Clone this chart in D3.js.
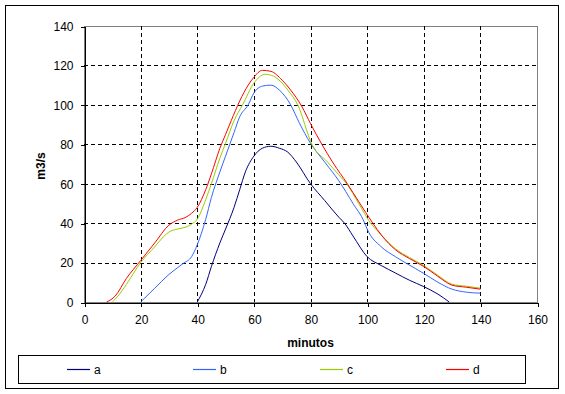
<!DOCTYPE html>
<html lang="en">
<head>
<meta charset="utf-8" />
<style>
    body { margin: 0; background: #fff; }
    text { font-family: "Liberation Sans", Arial, sans-serif; font-size: 12px; fill: #000; }
    .grid line { stroke: #000; stroke-dasharray: 4,3; shape-rendering: crispEdges; }
    .axis path, .axis line { stroke: #000; shape-rendering: crispEdges; }
    .series { fill: none; stroke-width: 1px; }
</style>
</head>
<body>
<svg width="565" height="394"></svg>
<script src="https://cdn.jsdelivr.net/npm/d3@7"></script>
<script>

var xTicks = [0, 20, 40, 60, 80, 100, 120, 140, 160],
    yTicks = [0, 20, 40, 60, 80, 100, 120, 140];

var seriesNames = ["a", "b", "c", "d"],
    seriesColors = ["#000080", "#3366ff", "#99cc00", "#ff0000"];

// minutos, m3/s
var a = [[40,0],[43,9],[45,18],[48,30],[50,37],[53,48],[55,57],[57,66],[60,74],[63,78],[66,79],[69,78],
         [72,76],[75,71],[80,60],[85,51.5],[90,43],[92,40],[95,33.5],[100,23],[105,18.5],[110,14.7],[115,11],
         [120,7.8],[125,4],[129,0]];
var b = [[20,0],[25,7],[30,14],[35,19.5],[38,23],[40,29],[43,42],[45,53],[48,66],[50,74],[53,86],[55,94],[58,100],
         [60,106],[63,109.5],[66,110],[69,107.5],[73,100],[76,91],[80,80.5],[85,71],[90,61.5],[95,50],[99,40.5],
         [100,37],[105,28],[110,23],[114,19.5],[120,14.5],[125,10],[130,6.5],[135,5],[140,4.5]];
var c = [[10,0],[12,3],[15,9],[20,20],[25,28],[28,33],[30,35.5],[33,37],[36,38],[38,39.5],[40,42],[43,52],[45,60],
         [48,73],[50,80.5],[53,92],[56,100],[60,111],[64,115.5],[67,114.5],[70,111],[72,107.5],[75.5,100],
         [80.5,80],[86,71],[90,64.5],[93,59.5],[97,50],[101,40.5],[105,34],[110,27],[115,22.5],[120,18.5],
         [125,13.5],[130,9],[135,8],[140,7]];
var d = [[8,0],[11,3],[15,12],[20,21],[25,30],[30,39],[33,41.5],[36,43],[38,45],[40,48],[43,57],[45,65],[48,78],
         [50,85],[52,92],[55,102],[58,110],[60,114],[63,117.5],[66,117],[70,112.5],[73,107.5],[77,99],[80,90.5],
         [84,80],[88,70.5],[93,60],[97,51],[102,40],[105,34],[110,26.5],[115,22],[120,18],[125,13],[128,10],
         [130,8.5],[135,7.5],[140,6.5]];

var allSeries = [a, b, c, d];

var svg = d3.select("svg");

var x = d3.scaleLinear().domain([0, 160]).range([84, 537]),
    y = d3.scaleLinear().domain([0, 140]).range([302, 26]);

// outer chart frame
svg.append("rect")
    .attr("x", 5.5).attr("y", 5.5)
    .attr("width", 553).attr("height", 383)
    .attr("fill", "none").attr("stroke", "#000")
    .attr("shape-rendering", "crispEdges");

// plot area border (grey)
svg.append("rect")
    .attr("x", x(0) + 0.5).attr("y", y(140) + 0.5)
    .attr("width", x(160) - x(0)).attr("height", y(0) - y(140))
    .attr("fill", "none").attr("stroke", "#808080")
    .attr("shape-rendering", "crispEdges");

// gridlines
var grid = svg.append("g").attr("class", "grid");
grid.selectAll(".h")
    .data(yTicks.filter(function (t) { return t > 0 && t < 140; }))
    .enter().append("line")
    .attr("x1", x(0)).attr("x2", x(160))
    .attr("y1", function (t) { return Math.round(y(t)) + 0.5; })
    .attr("y2", function (t) { return Math.round(y(t)) + 0.5; });
grid.selectAll(".v")
    .data(xTicks.filter(function (t) { return t > 0 && t < 160; }))
    .enter().append("line")
    .attr("y1", y(140)).attr("y2", y(0))
    .attr("x1", function (t) { return Math.round(x(t)) + 0.5; })
    .attr("x2", function (t) { return Math.round(x(t)) + 0.5; });

// axes
var xAxis = svg.append("g")
    .attr("class", "axis")
    .attr("transform", "translate(0.5," + (y(0) + 0.5) + ")")
    .call(d3.axisBottom(x).tickValues(xTicks).tickSize(4).tickSizeOuter(0).tickPadding(9));
xAxis.selectAll("text").style("font-size", "12px").style("font-family", "Liberation Sans, Arial, sans-serif");

var yAxis = svg.append("g")
    .attr("class", "axis")
    .attr("transform", "translate(" + (x(0) + 0.5) + ",0.5)")
    .call(d3.axisLeft(y).tickValues(yTicks).tickSize(4).tickSizeOuter(0).tickPadding(7));
yAxis.selectAll("text").style("font-size", "12px").style("font-family", "Liberation Sans, Arial, sans-serif");

// axis titles
svg.append("text")
    .attr("x", (x(0) + x(160)) / 2)
    .attr("y", 347)
    .attr("text-anchor", "middle")
    .style("font-weight", "bold")
    .text("minutos");

svg.append("text")
    .attr("transform", "translate(45,166) rotate(-90)")
    .attr("text-anchor", "middle")
    .style("font-weight", "bold")
    .text("m3/s");

// series
var line = d3.line()
    .x(function (p) { return x(p[0]); })
    .y(function (p) { return y(p[1]); })
    .curve(d3.curveMonotoneX);

svg.selectAll(".series")
    .data(allSeries)
    .enter().append("path")
    .attr("class", "series")
    .attr("stroke", function (s, i) { return seriesColors[i]; })
    .attr("d", line);

// legend
svg.append("rect")
    .attr("x", 18.5).attr("y", 355.5)
    .attr("width", 507).attr("height", 28)
    .attr("fill", "none").attr("stroke", "#000")
    .attr("shape-rendering", "crispEdges");

var legend = svg.selectAll(".legend")
    .data(seriesNames)
    .enter().append("g")
    .attr("class", "legend")
    .attr("transform", function (n, i) { return "translate(" + Math.round(67 + i * 126.3) + ",369)"; });

legend.append("line")
    .attr("x1", 0).attr("x2", 23)
    .attr("y1", 0.5).attr("y2", 0.5)
    .attr("stroke", function (n, i) { return seriesColors[i]; })
    .attr("stroke-width", 1.2);

legend.append("text")
    .attr("x", 27).attr("y", 4.5)
    .text(function (n) { return n; });

</script>
</body>
</html>
